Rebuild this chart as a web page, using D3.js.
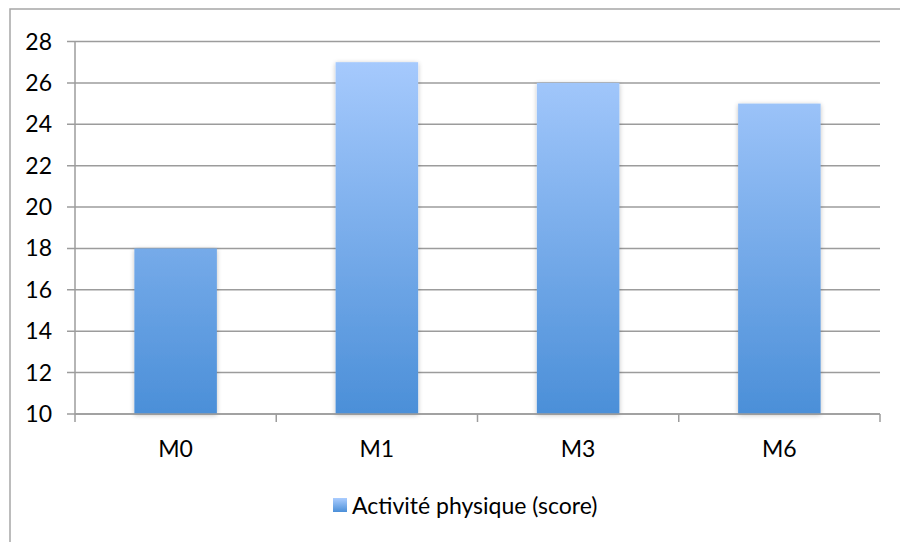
<!DOCTYPE html>
<html><head><meta charset="utf-8">
<script src="https://cdn.jsdelivr.net/npm/d3@7"></script>
<style>body{margin:0;background:#fff}svg{display:block}text{font-family:Lato,"Open Sans",sans-serif;fill:#000}</style>
</head><body><svg id="c" width="900" height="542"></svg>
<script>
const categories = ["M0","M1","M3","M6"];
const values = [18,27,26,25];
const yTicks = [10,12,14,16,18,20,22,24,26,28];
const seriesName = "Activité physique (score)";

const svg = d3.select("#c");
const m = {l:75, r:880, t:41.5, b:414};
const x = d3.scaleBand().domain(categories).range([m.l,m.r]).padding(0);
const y = d3.scaleLinear().domain([10,28]).range([m.b,m.t]);
const FS = 23;

const defs = svg.append("defs");
const g = defs.append("linearGradient").attr("id","bg").attr("x1",0).attr("x2",0).attr("gradientUnits","userSpaceOnUse")
  .attr("y1", y(28)).attr("y2", y(10));
g.append("stop").attr("offset","0%").attr("stop-color","#abcdff");
g.append("stop").attr("offset","100%").attr("stop-color","#4b8fd8");
const lg = defs.append("linearGradient").attr("id","lg").attr("x1",0).attr("y1",0).attr("x2",0).attr("y2",1);
lg.append("stop").attr("offset","0%").attr("stop-color","#abcdff");
lg.append("stop").attr("offset","100%").attr("stop-color","#4b8fd8");
const f = defs.append("filter").attr("id","sh").attr("x","-20%").attr("y","-20%").attr("width","140%").attr("height","140%");
f.append("feGaussianBlur").attr("in","SourceAlpha").attr("stdDeviation",2.5).attr("result","b");
f.append("feOffset").attr("in","b").attr("dx",0).attr("dy",1).attr("result","o");
f.append("feComponentTransfer").attr("in","o").attr("result","o2").append("feFuncA").attr("type","linear").attr("slope",0.25);
const fm = f.append("feMerge"); fm.append("feMergeNode").attr("in","o2"); fm.append("feMergeNode").attr("in","SourceGraphic");

svg.append("rect").attr("x",10).attr("y",9).attr("width",900).attr("height",560).attr("fill","none").attr("stroke","#a6a6a6").attr("stroke-width",1.5);

svg.append("g").selectAll("line").data(yTicks).join("line")
  .attr("x1",m.l-8).attr("x2",m.r).attr("y1",d=>y(d)).attr("y2",d=>y(d))
  .attr("stroke","#9c9c9c").attr("stroke-width",1.5);

svg.append("line").attr("x1",m.l).attr("x2",m.l).attr("y1",m.t).attr("y2",m.b).attr("stroke","#9c9c9c").attr("stroke-width",1.5);

svg.append("g").selectAll("text").data(yTicks).join("text")
  .attr("x",52).attr("y",d=>y(d)).attr("dy","0.35em").attr("text-anchor","end").attr("font-size",FS).text(d=>d);

const bw = x.bandwidth()*0.41;
svg.append("g").selectAll("rect").data(categories).join("rect")
  .attr("x",(d)=>x(d)+x.bandwidth()/2-bw/2).attr("width",bw)
  .attr("y",(d,i)=>y(values[i])).attr("height",(d,i)=>y(10)-y(values[i]))
  .attr("fill","url(#bg)").attr("filter","url(#sh)");

svg.append("line").attr("x1",m.l).attr("x2",m.r).attr("y1",m.b).attr("y2",m.b).attr("stroke","#9c9c9c").attr("stroke-width",1.5);
const bounds = categories.map(c=>x(c)).concat([m.r]);
svg.append("g").selectAll("line").data(bounds).join("line")
  .attr("x1",d=>d).attr("x2",d=>d).attr("y1",m.b).attr("y2",m.b+8).attr("stroke","#9c9c9c").attr("stroke-width",1.5);
svg.append("g").selectAll("text").data(categories).join("text")
  .attr("x",d=>x(d)+x.bandwidth()/2).attr("y",449).attr("dy","0.35em").attr("text-anchor","middle").attr("font-size",FS).text(d=>d);

svg.append("rect").attr("x",333).attr("y",498).attr("width",14).attr("height",14).attr("fill","url(#lg)");
svg.append("text").attr("x",352).attr("y",506).attr("dy","0.35em").attr("font-size",FS).text(seriesName);
</script></body></html>
